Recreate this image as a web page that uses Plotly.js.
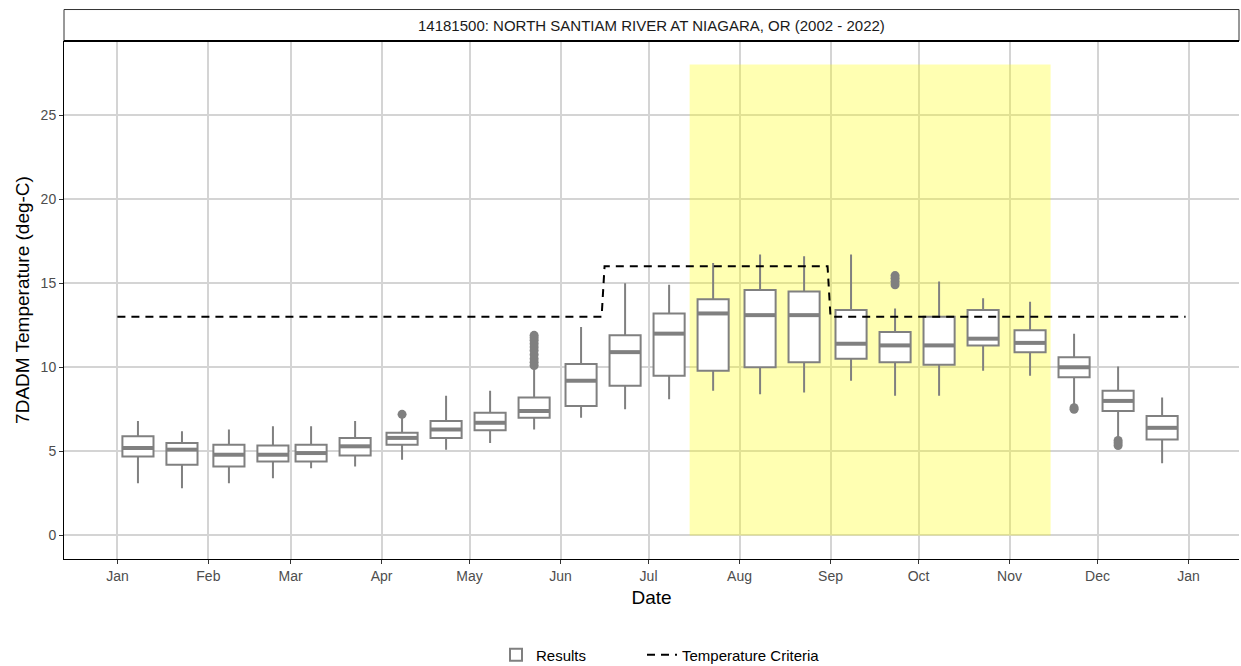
<!DOCTYPE html>
<html>
<head>
<meta charset="utf-8">
<script src="https://cdn.plot.ly/plotly-3.0.1.min.js"></script>
<style>
html,body{margin:0;padding:0;background:#ffffff;}
#chart{width:1241px;height:666px;}
</style>
</head>
<body>
<div id="chart"></div>
<script>
// ---- data ----
const chartTitle = '14181500: NORTH SANTIAM RIVER AT NIAGARA, OR (2002 - 2022)';

const boxDates = ['2022-01-08','2022-01-23','2022-02-08','2022-02-23','2022-03-08','2022-03-23',
  '2022-04-08','2022-04-23','2022-05-08','2022-05-23','2022-06-08','2022-06-23',
  '2022-07-08','2022-07-23','2022-08-08','2022-08-23','2022-09-08','2022-09-23',
  '2022-10-08','2022-10-23','2022-11-08','2022-11-23','2022-12-08','2022-12-23'];
const upperWhisker = [6.8,6.2,6.3,6.5,6.5,6.8,7.0,8.3,8.6,9.9,12.4,15.0,14.9,16.2,16.7,16.6,16.7,13.5,15.1,14.1,13.9,12.0,10.05,8.2];
const q3Values     = [5.9,5.5,5.4,5.35,5.4,5.8,6.1,6.8,7.3,8.2,10.2,11.9,13.2,14.05,14.6,14.5,13.4,12.1,13.0,13.4,12.2,10.6,8.6,7.1];
const medianValues = [5.2,5.1,4.8,4.8,4.9,5.3,5.8,6.3,6.7,7.4,9.2,10.9,12.0,13.2,13.1,13.1,11.4,11.3,11.3,11.7,11.45,10.0,8.0,6.4];
const q1Values     = [4.7,4.2,4.1,4.4,4.4,4.75,5.4,5.8,6.25,7.0,7.7,8.9,9.5,9.8,10.0,10.3,10.5,10.3,10.15,11.3,10.9,9.4,7.4,5.7];
const lowerWhisker = [3.1,2.8,3.1,3.4,4.0,4.1,4.5,5.1,5.5,6.3,7.0,7.5,8.1,8.6,8.4,8.5,9.2,8.3,8.3,9.8,9.5,7.7,5.75,4.3];

const outlierDates = ['2022-04-08',
  '2022-05-23','2022-05-23','2022-05-23','2022-05-23','2022-05-23','2022-05-23','2022-05-23','2022-05-23','2022-05-23','2022-05-23',
  '2022-09-23','2022-09-23','2022-09-23','2022-09-23',
  '2022-11-23','2022-11-23',
  '2022-12-08','2022-12-08','2022-12-08'];
const outlierValues = [7.2,
  11.9,11.75,11.6,11.4,11.2,11.0,10.75,10.5,10.3,10.1,
  15.45,15.3,15.1,14.9,
  7.6,7.5,
  5.65,5.5,5.35];

const criteriaDates  = ['2022-01-01','2022-06-15','2022-06-16','2022-08-31','2022-09-01','2022-12-31'];
const criteriaValues = [13,13,16,16,13,13];

const highlightStart = '2022-07-15';
const highlightEnd   = '2022-11-15';
const highlightTop   = 28;

const monthTickDates  = ['2022-01-01','2022-02-01','2022-03-01','2022-04-01','2022-05-01','2022-06-01','2022-07-01',
  '2022-08-01','2022-09-01','2022-10-01','2022-11-01','2022-12-01','2023-01-01'];
const monthTickLabels = ['Jan','Feb','Mar','Apr','May','Jun','Jul','Aug','Sep','Oct','Nov','Dec','Jan'];
const yTickValues = [0,5,10,15,20,25];

// ---- styling ----
const DAY = 86400000;
const BOX_WIDTH = 10.6 * DAY;
const GREY = '#808080';
const FONT = 'Liberation Sans, Arial, sans-serif';

const medX = [], medY = [];
boxDates.forEach((d, i) => {
  const t = Date.parse(d + 'T00:00:00Z');
  medX.push(t - BOX_WIDTH / 2, t + BOX_WIDTH / 2, null);
  medY.push(medianValues[i], medianValues[i], null);
});

const traces = [
  {
    type: 'box', name: 'Results', x: boxDates,
    q1: q1Values, median: medianValues, q3: q3Values,
    lowerfence: lowerWhisker, upperfence: upperWhisker,
    boxpoints: false, width: BOX_WIDTH, whiskerwidth: 0,
    fillcolor: '#ffffff', line: {color: GREY, width: 2},
    hoverinfo: 'skip', showlegend: true, legend: 'legend'
  },
  {
    type: 'scatter', mode: 'lines', x: medX, y: medY,
    line: {color: GREY, width: 4}, showlegend: false, hoverinfo: 'skip'
  },
  {
    type: 'scatter', mode: 'markers', x: outlierDates, y: outlierValues,
    marker: {color: GREY, size: 9}, showlegend: false, hoverinfo: 'skip'
  },
  {
    type: 'scatter', mode: 'lines', name: 'Temperature Criteria',
    x: criteriaDates, y: criteriaValues,
    line: {color: '#000000', width: 2, dash: '8px,6px'}, hoverinfo: 'skip',
    showlegend: true, legend: 'legend2'
  }
];

const stripTop = 1 + 31.5 / 518.5;
const legendFont = {size: 15, family: FONT, color: '#000000'};

const layout = {
  width: 1241, height: 666,
  paper_bgcolor: '#ffffff', plot_bgcolor: '#ffffff',
  margin: {l: 64, r: 2, t: 41, b: 106.5},
  font: {family: FONT, color: '#000000'},
  showlegend: true,
  legend: {orientation: 'h', xref: 'container', yref: 'container',
    x: 496 / 1241, xanchor: 'left', y: 0.0165, yanchor: 'middle',
    font: legendFont, itemwidth: 30},
  legend2: {orientation: 'h', xref: 'container', yref: 'container',
    x: 642 / 1241, xanchor: 'left', y: 0.0165, yanchor: 'middle',
    font: legendFont, itemwidth: 30},
  xaxis: {
    type: 'date',
    range: ['2021-12-13 19:12', '2023-01-18 04:48'],
    tickmode: 'array', tickvals: monthTickDates, ticktext: monthTickLabels,
    ticks: 'outside', ticklen: 4, tickcolor: '#333333', tickwidth: 1,
    tickfont: {size: 14, color: '#4d4d4d', family: FONT},
    showgrid: true, gridcolor: '#d4d4d4', gridwidth: 2,
    showline: true, linecolor: '#000000', linewidth: 1,
    zeroline: false,
    title: {text: 'Date', font: {size: 19, color: '#000000', family: FONT}, standoff: 7}
  },
  yaxis: {
    range: [-1.4, 29.4],
    tickmode: 'array', tickvals: yTickValues,
    ticks: 'outside', ticklen: 4, tickcolor: '#333333', tickwidth: 1,
    tickfont: {size: 14, color: '#4d4d4d', family: FONT},
    showgrid: true, gridcolor: '#d4d4d4', gridwidth: 2,
    showline: true, linecolor: '#000000', linewidth: 1,
    zeroline: false,
    title: {text: '7DADM Temperature (deg-C)', font: {size: 19, color: '#000000', family: FONT}, standoff: 5}
  },
  shapes: [
    {type: 'rect', layer: 'between', xref: 'x', yref: 'y',
     x0: highlightStart, x1: highlightEnd, y0: 0, y1: highlightTop,
     fillcolor: 'rgba(255,255,0,0.3)', line: {width: 0}},
    {type: 'rect', layer: 'above', xref: 'paper', yref: 'paper',
     x0: 0, x1: 1, y0: 1, y1: stripTop,
     fillcolor: '#ffffff', line: {color: '#333333', width: 1}},
    {type: 'line', layer: 'above', xref: 'paper', yref: 'paper',
     x0: 0, x1: 1, y0: 1, y1: 1, line: {color: '#000000', width: 2}}
  ],
  annotations: [
    {text: chartTitle, xref: 'paper', yref: 'paper', x: 0.5, y: (1 + stripTop) / 2,
     xanchor: 'center', yanchor: 'middle', showarrow: false,
     font: {size: 15, color: '#1a1a1a', family: FONT}}
  ]
};

Plotly.newPlot('chart', traces, layout, {displayModeBar: false, staticPlot: true});
</script>
</body>
</html>
